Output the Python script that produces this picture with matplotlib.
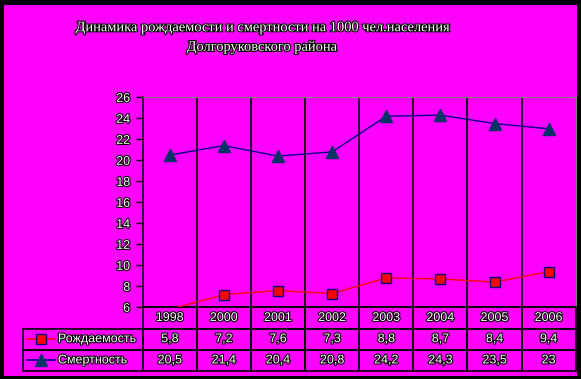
import matplotlib
matplotlib.use("Agg")
import matplotlib.pyplot as plt
import matplotlib.patheffects as pe
from matplotlib.patches import Rectangle
from matplotlib.table import Table

years = ["1998", "2000", "2001", "2002", "2003", "2004", "2005", "2006"]
births = [5.8, 7.2, 7.6, 7.3, 8.8, 8.7, 8.4, 9.4]
deaths = [20.5, 21.4, 20.4, 20.8, 24.2, 24.3, 23.5, 23]
series_names = ["Рождаемость", "Смертность"]
title = "Динамика рождаемости и смертности на 1000 чел.населения\nДолгоруковского района"

W, H = 581, 379
MAG = "#ff00ff"
fx = lambda px: px / W
fy = lambda py: 1 - py / H

outline = [pe.withStroke(linewidth=1.6, foreground="black")]

fig = plt.figure(figsize=(W / 100, H / 100), dpi=100, facecolor="black")
fig.patches.append(Rectangle((fx(4), fy(376)), fx(577) - fx(4), fy(5) - fy(376),
                             transform=fig.transFigure, facecolor=MAG, edgecolor="none", zorder=-5))

# plot area in pixels
L, R, T, B = 142.7, 575.7, 97.3, 307.3
ax = fig.add_axes([fx(L), fy(B), fx(R) - fx(L), fy(T) - fy(B)])
ax.set_facecolor(MAG)

n = len(years)
x = list(range(n))
ymin, ymax = 6, 26
ax.set_xlim(-0.5, n - 0.5)
ax.set_ylim(ymin, ymax)
ax.set_yticks(range(ymin, ymax + 1, 2))
ax.set_xticks([])
for b in range(1, n):
    ax.axvline(b - 0.5, color="black", lw=1.2, zorder=1)

# points below the axis minimum get no marker (like the original)
shown_b = [i for i, v in enumerate(births) if v >= ymin]
shown_d = [i for i, v in enumerate(deaths) if v >= ymin]
ax.plot(x, births, color="red", lw=1, marker="s", ms=7.5, mfc="red",
        mec="#000080", mew=1, markevery=shown_b, zorder=3)
ax.plot(x, deaths, color="#000080", lw=1, marker="^", ms=8.5, mfc="#003366",
        mec="#003366", markevery=shown_d, zorder=3)

for s in ["top", "right"]:
    ax.spines[s].set_color("#808080")
for s in ["left", "bottom"]:
    ax.spines[s].set_color("black")
    ax.spines[s].set_linewidth(1.2)
ax.tick_params(axis="y", length=5, width=1, color="black", pad=4)
for lab in ax.get_yticklabels():
    lab.set_fontfamily("Liberation Sans")
    lab.set_fontsize(9)
    lab.set_color("white")
    lab.set_path_effects(outline)

# data table under the plot
TL, TB = 23.3, 371
w_axes = R - L
h_axes = B - T
tab = Table(ax, bbox=[(TL - L) / w_axes, -(TB - B) / h_axes,
                      (R - TL) / w_axes, (TB - B) / h_axes])
label_w = L - TL
col_w = (R - L) / n
rows = [[""] + years,
        [series_names[0]] + [str(v).replace(".", ",") for v in births],
        [series_names[1]] + [str(v).replace(".", ",") for v in deaths]]
for r, row in enumerate(rows):
    for c, txt in enumerate(row):
        w = label_w if c == 0 else col_w
        cell = tab.add_cell(r, c, width=w, height=1, text=txt,
                            loc="left" if c == 0 else "center",
                            facecolor="none", edgecolor="black")
        cell.set_linewidth(1.2)
        t = cell.get_text()
        t.set_fontfamily("Liberation Sans")
        t.set_fontsize(9)
        t.set_color("white")
        t.set_path_effects(outline)
        if c == 0:
            cell.PAD = 0.29
tab[0, 0].visible_edges = ""
tab.auto_set_font_size(False)
ax.add_table(tab)

# legend keys inside the row-label cells
row_h = (TB - B) / 3
keys = [("red", "s", "red", "#000080", 7), ("#000080", "^", "#003366", "#003366", 8)]
for i, (col, mk, mfc, mec, ms) in enumerate(keys):
    yc = fy(B + row_h * (i + 1.5))
    fig.add_artist(plt.Line2D([fx(27), fx(55)], [yc, yc], color=col, lw=1.2,
                              linestyle="-", transform=fig.transFigure, zorder=10))
    fig.add_artist(plt.Line2D([fx(41)], [yc], marker=mk, ms=ms, mfc=mfc,
                              mec=mec, linestyle="none", transform=fig.transFigure,
                              zorder=11))

fig.text(fx(261), fy(37.5), title, ha="center", va="center", fontsize=10.4,
         family="Liberation Serif", color="white", linespacing=1.65,
         path_effects=outline)

fig.savefig("out.png", dpi=100, facecolor="black")
